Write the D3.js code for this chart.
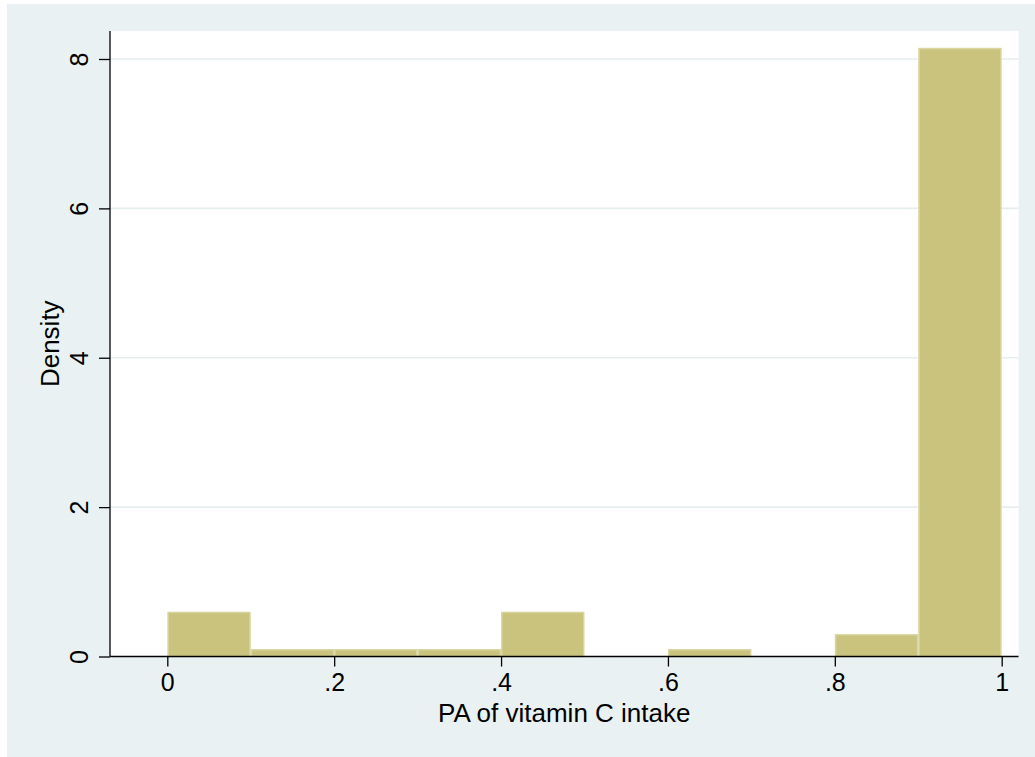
<!DOCTYPE html>
<html>
<head>
<meta charset="utf-8">
<script src="https://cdn.jsdelivr.net/npm/d3@7"></script>
<style>
  html, body { margin: 0; padding: 0; background: #ffffff; }
  svg { display: block; font-family: "Liberation Sans", Arial, sans-serif; }
</style>
</head>
<body>
<svg id="chart" width="1035" height="757"></svg>
<script>
// Histogram bins of PA of vitamin C intake (bin start, bin end, density)
const binStart = [0.0, 0.1, 0.2, 0.3, 0.4, 0.5, 0.6, 0.7, 0.8, 0.9];
const binEnd   = [0.1, 0.2, 0.3, 0.4, 0.5, 0.6, 0.7, 0.8, 0.9, 1.0];
const density  = [0.6, 0.1, 0.1, 0.1, 0.6, 0.0, 0.1, 0.0, 0.3, 8.15];

const xTicks = [0, 0.2, 0.4, 0.6, 0.8, 1];
const xTickLabels = ["0", ".2", ".4", ".6", ".8", "1"];
const yTicks = [0, 2, 4, 6, 8];
const yTickLabels = ["0", "2", "4", "6", "8"];

const xTitle = "PA of vitamin C intake";
const yTitle = "Density";

const svg = d3.select("#chart");

// outer graph region
svg.append("rect")
  .attr("x", 7).attr("y", 4)
  .attr("width", 1028).attr("height", 753)
  .attr("fill", "#eaf1f3");

const plot = { left: 110, right: 1018.5, top: 31, bottom: 656.5 };

svg.append("rect")
  .attr("x", plot.left).attr("y", plot.top)
  .attr("width", plot.right - plot.left).attr("height", plot.bottom - plot.top)
  .attr("fill", "#ffffff");

const x = d3.scaleLinear().domain([0, 1]).range([167.3, 1001.7]);
const y = d3.scaleLinear().domain([0, 8]).range([plot.bottom, 59]);

// horizontal grid lines
svg.append("g")
  .selectAll("line")
  .data(yTicks.filter(d => d > 0))
  .join("line")
  .attr("x1", plot.left).attr("x2", plot.right)
  .attr("y1", d => y(d)).attr("y2", d => y(d))
  .attr("stroke", "#e6eef0")
  .attr("stroke-width", 1.6);

// bars
const bins = binStart.map((s, i) => ({ x0: s, x1: binEnd[i], d: density[i] }));
svg.append("g")
  .selectAll("rect")
  .data(bins.filter(b => b.d > 0))
  .join("rect")
  .attr("x", b => x(b.x0) + 0.75)
  .attr("width", b => x(b.x1) - x(b.x0) - 1.5)
  .attr("y", b => y(b.d) + 0.75)
  .attr("height", b => y(0) - y(b.d) - 0.75)
  .attr("fill", "#c9c37e")
  .attr("stroke", "#d9d59f")
  .attr("stroke-width", 1.5);

// x axis
const xAxis = d3.axisBottom(x)
  .tickValues(xTicks)
  .tickFormat((d, i) => xTickLabels[i])
  .tickSize(10)
  .tickPadding(7)
  .tickSizeOuter(0);

const gx = svg.append("g")
  .attr("transform", `translate(0,${plot.bottom})`)
  .call(xAxis);
gx.select(".domain").remove();
gx.append("line")
  .attr("x1", plot.left).attr("x2", plot.right)
  .attr("y1", 0).attr("y2", 0)
  .attr("stroke", "#000").attr("stroke-width", 1.3);
gx.selectAll(".tick line").attr("stroke", "#000").attr("stroke-width", 1.3);
gx.selectAll(".tick text")
  .attr("fill", "#000")
  .style("font-size", "25px")
  .style("font-family", "Liberation Sans, Arial, sans-serif");

// y axis
const yAxis = d3.axisLeft(y)
  .tickValues(yTicks)
  .tickFormat((d, i) => yTickLabels[i])
  .tickSize(11)
  .tickSizeOuter(0);

const gy = svg.append("g")
  .attr("transform", `translate(${plot.left},0)`)
  .call(yAxis);
gy.select(".domain").remove();
gy.append("line")
  .attr("x1", 0).attr("x2", 0)
  .attr("y1", plot.top).attr("y2", plot.bottom)
  .attr("stroke", "#000").attr("stroke-width", 1.3);
gy.selectAll(".tick line").attr("stroke", "#000").attr("stroke-width", 1.3);
gy.selectAll(".tick text")
  .attr("fill", "#000")
  .attr("x", null).attr("dy", null)
  .attr("text-anchor", "middle")
  .attr("transform", "translate(-22,0) rotate(-90)")
  .style("font-size", "25px")
  .style("font-family", "Liberation Sans, Arial, sans-serif");

// axis titles
svg.append("text")
  .attr("x", (plot.left + plot.right) / 2 + 0)
  .attr("y", 721.5)
  .attr("text-anchor", "middle")
  .attr("fill", "#000")
  .style("font-size", "26px")
  .text(xTitle);

svg.append("text")
  .attr("transform", `translate(59,${(plot.top + plot.bottom) / 2}) rotate(-90)`)
  .attr("text-anchor", "middle")
  .attr("fill", "#000")
  .style("font-size", "26px")
  .text(yTitle);
</script>
</body>
</html>
